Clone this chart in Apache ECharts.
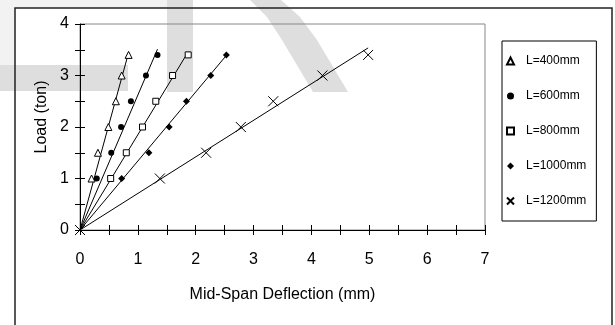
<!DOCTYPE html>
<html><head><meta charset="utf-8">
<script src="https://cdn.jsdelivr.net/npm/echarts@6/dist/echarts.min.js"></script>
<style>html,body{margin:0;padding:0;background:#fff}#c{width:615px;height:325px}</style>
</head><body><div id="c"></div>
<script>
// ---- data ----
const seriesNames = ['L=400mm', 'L=600mm', 'L=800mm', 'L=1000mm', 'L=1200mm'];
const loads = [1, 1.5, 2, 2.5, 3, 3.4];
const loads1200 = [0, 1, 1.5, 2, 2.5, 3, 3.4];
const defl400 = [0.20, 0.31, 0.49, 0.62, 0.72, 0.84];
const defl600 = [0.29, 0.54, 0.71, 0.88, 1.14, 1.34];
const defl800 = [0.53, 0.80, 1.08, 1.31, 1.60, 1.87];
const defl1000 = [0.72, 1.19, 1.54, 1.84, 2.26, 2.53];
const defl1200 = [0, 1.38, 2.18, 2.78, 3.34, 4.19, 4.98];
// linear trendlines through origin (slope in ton/mm)
const trendSlopes = [4.1, 2.62, 1.85, 1.34, 0.71];
const xTicks = [0, 1, 2, 3, 4, 5, 6, 7];
const yTicks = [0, 1, 2, 3, 4];

const deflSets = [defl400, defl600, defl800, defl1000, defl1200];
const loadSets = [loads, loads, loads, loads, loads1200];
const symbols = ['triangle', 'circle', 'rect', 'diamond', 'path://M0,0L10,10M10,0L0,10'];
const symSizes = [[7, 7], 6, 6, 7, 10];
const hollow = [true, false, true, false, true];

const series = [];
seriesNames.forEach((name, i) => {
  const pts = deflSets[i].map((x, k) => [x, loadSets[i][k]]);
  series.push({
    name, type: 'scatter', data: pts, symbol: symbols[i], symbolSize: symSizes[i], z: 4,
    itemStyle: hollow[i] ? { color: i === 4 ? 'rgba(0,0,0,0)' : '#fff', borderColor: '#000', borderWidth: 1, opacity: 1 }
                         : { color: '#000', borderColor: '#000', borderWidth: 0, opacity: 1 }
  });
});
seriesNames.forEach((name, i) => {
  const xmax = Math.max(...deflSets[i]);
  series.push({
    name: 'trend ' + name, type: 'line', data: [[0, 0], [xmax, trendSlopes[i] * xmax]],
    showSymbol: false, silent: true, lineStyle: { color: '#000', width: 1 }, z: 3
  });
});

const chart = echarts.init(document.getElementById('c'), null, { renderer: 'canvas' });
const txt = { fontFamily: 'Liberation Sans, Arial, sans-serif', color: '#000' };

chart.setOption({
  animation: false,
  backgroundColor: '#fff',
  textStyle: txt,
  graphic: [
    { type: 'rect', shape: { x: 0, y: 0, width: 167, height: 65 }, style: { fill: '#f2f2f2' }, z: -20, silent: true },
    { type: 'rect', shape: { x: 15, y: 8, width: 597, height: 330 }, style: { fill: '#fff' }, z: -19, silent: true },
    { type: 'rect', shape: { x: 0, y: 65, width: 128, height: 26 }, style: { fill: '#dedede' }, z: -18, silent: true },
    { type: 'rect', shape: { x: 167, y: 0, width: 26, height: 92 }, style: { fill: '#dedede' }, z: -18, silent: true },
    { type: 'polygon', shape: { points: [[250, 0], [281, 0], [300, 17], [317, 40], [348, 92], [313, 92], [282, 40], [267, 17]] }, style: { fill: '#dedede' }, z: -18, silent: true },
    { type: 'rect', shape: { x: 15, y: 8, width: 597, height: 330 }, style: { fill: 'none', stroke: '#222', lineWidth: 1.5 }, z: -17, silent: true },
    { type: 'rect', shape: { x: 80, y: 24, width: 405, height: 206 }, style: { fill: 'none', stroke: '#888', lineWidth: 1 }, z: -16, silent: true }
  ],
  grid: { left: 80, top: 24, right: 130, bottom: 95, containLabel: false },
  legend: {
    orient: 'vertical', left: 502, top: 41,
    data: seriesNames,
    itemWidth: 7, itemHeight: 7, itemGap: 23,
    borderColor: '#000', borderWidth: 1, padding: [14, 10, 14, 4],
    textStyle: { fontSize: 12, color: '#000', padding: [0, 0, 0, 7], fontFamily: 'Liberation Sans, Arial, sans-serif' },
    selectedMode: false
  },
  xAxis: [
    {
      type: 'value', min: 0, max: 7, interval: 1, position: 'bottom',
      name: 'Mid-Span Deflection (mm)', nameLocation: 'middle', nameGap: 57,
      nameTextStyle: { fontSize: 16, color: '#000' },
      axisLine: { show: true, onZero: false, lineStyle: { color: '#000', width: 1 } },
      axisTick: { show: true, inside: false, length: 5, lineStyle: { color: '#000' } },
      minorTick: { show: true, splitNumber: 2, length: 5, lineStyle: { color: '#000' } },
      axisLabel: { fontSize: 16, color: '#000', margin: 22, formatter: v => xTicks.includes(v) ? String(v) : '' },
      splitLine: { show: false }
    },
    {
      type: 'value', min: 0, max: 7, interval: 1, position: 'bottom',
      axisLine: { show: false, onZero: false },
      axisTick: { show: true, inside: true, length: 5, lineStyle: { color: '#000' } },
      minorTick: { show: true, splitNumber: 2, length: 5, lineStyle: { color: '#000' } },
      axisLabel: { show: false }, splitLine: { show: false }
    }
  ],
  yAxis: [
    {
      type: 'value', min: 0, max: 4, interval: 1, position: 'left',
      name: 'Load (ton)', nameLocation: 'middle', nameGap: 28, nameRotate: 90,
      nameTextStyle: { fontSize: 16, color: '#000', padding: [0, 0, 0, 20] },
      axisLine: { show: true, onZero: false, lineStyle: { color: '#000', width: 1 } },
      axisTick: { show: true, inside: false, length: 5, lineStyle: { color: '#000' } },
      minorTick: { show: true, splitNumber: 2, length: 5, lineStyle: { color: '#000' } },
      axisLabel: { fontSize: 16, color: '#000', margin: 11, formatter: v => yTicks.includes(v) ? String(v) : '' },
      splitLine: { show: false }
    },
    {
      type: 'value', min: 0, max: 4, interval: 1, position: 'left',
      axisLine: { show: false, onZero: false },
      axisTick: { show: true, inside: true, length: 5, lineStyle: { color: '#000' } },
      minorTick: { show: true, splitNumber: 2, length: 5, lineStyle: { color: '#000' } },
      axisLabel: { show: false }, splitLine: { show: false }
    }
  ],
  series
});
</script></body></html>
